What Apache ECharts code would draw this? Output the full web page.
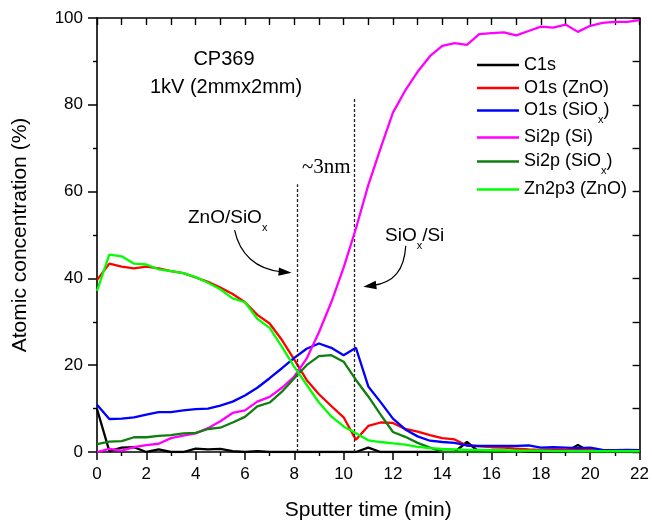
<!DOCTYPE html>
<html>
<head>
<meta charset="utf-8">
<script src="https://cdn.jsdelivr.net/npm/echarts@6/dist/echarts.min.js"></script>
<style>
html,body{margin:0;padding:0;background:#fff;}
#chart{width:652px;height:526px;}
</style>
</head>
<body>
<div id="chart"></div>
<script>
// Sputter time (min), one sample every 0.5 min
var times = [0,0.5,1,1.5,2,2.5,3,3.5,4,4.5,5,5.5,6,6.5,7,7.5,8,8.5,9,9.5,10,10.5,11,11.5,12,12.5,13,13.5,14,14.5,15,15.5,16,16.5,17,17.5,18,18.5,19,19.5,20,20.5,21,21.5,22];

var c1s = [9.9,0.2,1.0,1.1,0,0.6,0,0,0.8,0.6,0.7,0.2,0,0.2,0,0,0,0,0,0,0,0,1.0,0,0,0,0,0,0,0,2.3,0,0,0,0.4,0,0,0,0,1.6,0,0,0,0,0];
var o1sZnO = [39.6,43.4,42.7,42.3,42.7,42.3,41.7,41.2,40.2,39.2,37.9,36.4,34.5,31.6,29.6,25.8,21.3,16.6,13.3,10.6,8.0,2.8,6.0,6.8,6.7,5.3,4.7,3.9,3.2,2.9,1.5,1.3,1.1,1.0,0.8,0.6,0.5,0.5,0.5,0.5,0.4,0.3,0.3,0.3,0.3];
var o1sSiOx = [10.9,7.6,7.7,8.0,8.6,9.2,9.2,9.6,9.9,10.0,10.7,11.6,13.0,14.8,17.0,19.3,21.7,23.8,25.0,24.0,22.3,24.0,15.1,11.5,7.7,5.2,3.6,2.6,2.3,2.1,1.5,1.4,1.4,1.4,1.4,1.5,1.0,1.1,1.0,0.9,1.0,0.5,0.4,0.5,0.4];
var si2pSi = [0,0.7,0.3,1.1,1.6,1.9,3.2,3.8,4.3,5.5,7.1,9.0,9.6,11.6,12.7,14.8,17.4,21.5,27.6,34.5,42.5,51.5,61.5,70.0,78.2,83.3,87.6,91.2,93.6,94.2,93.8,96.3,96.5,96.7,96.0,97.0,98.0,97.8,98.5,96.8,98.2,98.9,99.1,99.1,99.5];
var si2pSiOx = [1.8,2.4,2.5,3.4,3.4,3.7,3.9,4.3,4.4,5.3,5.6,6.8,8.1,10.5,11.4,13.9,17.0,20.0,22.1,22.3,20.8,16.6,12.8,8.6,4.6,3.5,2.1,1.0,0.1,0,0,0,0.1,0.1,0.1,0.2,0.2,0.2,0.2,0.1,0.1,0.1,0.1,0.1,0.1];
var zn2p3 = [37.1,45.5,45.1,43.4,43.2,42.1,41.7,41.2,40.3,39.0,37.5,35.4,34.5,30.7,28.6,24.2,19.6,15.5,11.4,8.2,5.9,4.3,2.7,2.3,2.0,1.7,1.2,0.9,0.7,0.6,0.5,0.5,0.4,0.4,0.3,0.3,0.3,0.2,0.2,0.2,0.2,0.2,0.2,0.2,0.2];

var seriesNames = ['C1s','O1s (ZnO)','O1s (SiOx)','Si2p (Si)','Si2p (SiOx)','Zn2p3 (ZnO)'];
var seriesColors = ['#000000','#ff0000','#0000ff','#ff00ff','#0f7f0f','#00ff00'];
var seriesValues = [c1s,o1sZnO,o1sSiOx,si2pSi,si2pSiOx,zn2p3];

// interface markers (dashed lines): [time, top value]
var interfaces = [[8.14,61.7],[10.43,81.5]];

var xTicks = {min:0,max:22,interval:2};
var yTicks = {min:0,max:100,interval:20};

var SANS = 'Liberation Sans, Arial, sans-serif';
var SERIF = 'Liberation Serif, Times New Roman, serif';

function pairs(vals){ return times.map(function(t,i){ return [t, vals[i]]; }); }

function richName(name){
  if (name.indexOf('SiOx') >= 0) {
    var parts = name.split('SiOx');
    return '{a|' + parts[0] + 'SiO}{s|x}{a|' + parts[1] + '}';
  }
  return '{a|' + name + '}';
}

var legendRich = {
  a:{fontSize:18, lineHeight:18, fontFamily:SANS, color:'#000', verticalAlign:'top'},
  s:{fontSize:11, lineHeight:18, fontFamily:SANS, color:'#000', verticalAlign:'top', padding:[13,0,0,0]}
};

var legendRows = [65, 88, 110.5, 137.5, 161.5, 189.5];

var series = seriesNames.map(function(n,i){
  return {
    name:n, type:'line', data:pairs(seriesValues[i]), showSymbol:false, symbol:'none',
    xAxisIndex:0, yAxisIndex:0,
    lineStyle:{color:seriesColors[i], width:2.3}, itemStyle:{color:seriesColors[i]},
    emphasis:{disabled:true}, z: 2 + i
  };
});
series.push({
  type:'line', data:[], silent:true, xAxisIndex:0, yAxisIndex:0,
  markLine:{
    silent:true, symbol:['none','none'], label:{show:false},
    lineStyle:{color:'#222', type:[3,2], width:1.3},
    emphasis:{disabled:true},
    data: interfaces.map(function(p){ return [{coord:[p[0],0]},{coord:[p[0],p[1]]}]; })
  }
});

var legends = seriesNames.map(function(n,i){
  return {
    data:[n], orient:'vertical', left:477, top:legendRows[i]-9, padding:0,
    itemWidth:42, itemHeight:2.3, itemGap:0, icon:'rect', selectedMode:false,
    formatter: richName,
    textStyle:{rich:legendRich}
  };
});

var axisLineStyle = {color:'#000', width:1.6};

var option = {
  animation:false,
  backgroundColor:'#fff',
  grid:{left:97, right:11, top:18, bottom:70, containLabel:false},
  legend: legends,
  xAxis:[
    {type:'value', position:'bottom', min:xTicks.min, max:xTicks.max, interval:xTicks.interval,
     axisLine:{onZero:false, lineStyle:axisLineStyle},
     axisTick:{inside:false, length:8, lineStyle:{color:'#000', width:1.5}},
     minorTick:{show:true, splitNumber:2, length:4, lineStyle:{color:'#000', width:1.4}},
     axisLabel:{fontSize:17, color:'#000', margin:14, fontFamily:SANS},
     splitLine:{show:false}, minorSplitLine:{show:false},
     name:'Sputter time (min)', nameLocation:'middle', nameGap:48,
     nameTextStyle:{fontSize:21, color:'#000', fontFamily:SANS}},
    {type:'value', position:'top', min:xTicks.min, max:xTicks.max, interval:1,
     axisLine:{onZero:false, lineStyle:axisLineStyle},
     axisTick:{inside:true, length:7, lineStyle:{color:'#000', width:1.4}},
     axisLabel:{show:false}, splitLine:{show:false}}
  ],
  yAxis:[
    {type:'value', position:'left', min:yTicks.min, max:yTicks.max, interval:yTicks.interval,
     axisLine:{show:true, onZero:false, lineStyle:axisLineStyle},
     axisTick:{show:true, inside:false, length:9, lineStyle:{color:'#000', width:1.5}},
     minorTick:{show:true, splitNumber:2, length:4, lineStyle:{color:'#000', width:1.4}},
     axisLabel:{fontSize:17, color:'#000', margin:14, fontFamily:SANS},
     splitLine:{show:false}, minorSplitLine:{show:false},
     name:'Atomic concentration (%)', nameLocation:'middle', nameGap:66, nameRotate:90,
     nameTextStyle:{fontSize:21, color:'#000', fontFamily:SANS}},
    {type:'value', position:'right', min:yTicks.min, max:yTicks.max, interval:10,
     axisLine:{show:true, onZero:false, lineStyle:axisLineStyle},
     axisTick:{show:true, inside:true, length:7, lineStyle:{color:'#000', width:1.4}},
     axisLabel:{show:false}, splitLine:{show:false}}
  ],
  series: series
};

var chart = echarts.init(document.getElementById('chart'));
chart.setOption(option);

// annotations
var annRich = {
  a:{fontSize:19, lineHeight:19, fontFamily:SANS, color:'#000', verticalAlign:'top'},
  s:{fontSize:11, lineHeight:19, fontFamily:SANS, color:'#000', verticalAlign:'top', padding:[14,0,0,0]}
};

// arrows in data coordinates: start, control1, control2, tip
var arrowDefs = [
  [[5.58,51.1],[5.78,45.7],[6.43,42.0],[7.89,41.3]],
  [[12.52,47.5],[12.46,42.0],[12.05,39.0],[10.80,38.1]]
];

function px(p){ return chart.convertToPixel({xAxisIndex:0, yAxisIndex:0}, p); }

var graphics = [
  {type:'text', x:224, y:59, style:{text:'CP369', font:'20px '+SANS, fill:'#000', align:'center', verticalAlign:'middle'}},
  {type:'text', x:226, y:87, style:{text:'1kV (2mmx2mm)', font:'20px '+SANS, fill:'#000', align:'center', verticalAlign:'middle'}},
  {type:'text', x:302, y:167, style:{text:'~3nm', font:'21px '+SERIF, fill:'#000', align:'left', verticalAlign:'middle'}},
  {type:'text', x:188, y:208, style:{text:'{a|ZnO/SiO}{s|x}', rich:annRich, align:'left', verticalAlign:'top'}},
  {type:'text', x:385, y:226, style:{text:'{a|SiO}{s|x}{a|/Si}', rich:annRich, align:'left', verticalAlign:'top'}}
];

arrowDefs.forEach(function(a){
  var p = a.map(px);
  var tip = p[3], c2 = p[2];
  var dx = tip[0]-c2[0], dy = tip[1]-c2[1];
  var len = Math.sqrt(dx*dx+dy*dy); dx/=len; dy/=len;
  var L = 13, W = 4.2;
  var base = [tip[0]-L*dx, tip[1]-L*dy];
  var end = [tip[0]-L*0.7*dx, tip[1]-L*0.7*dy];
  graphics.push({type:'bezierCurve', shape:{x1:p[0][0], y1:p[0][1], cpx1:p[1][0], cpy1:p[1][1], cpx2:p[2][0], cpy2:p[2][1], x2:end[0], y2:end[1]},
    style:{stroke:'#000', lineWidth:1.2, fill:null}, silent:true});
  graphics.push({type:'polygon', shape:{points:[tip,[base[0]-W*dy, base[1]+W*dx],[base[0]+W*dy, base[1]-W*dx]]},
    style:{fill:'#000', stroke:null}, silent:true});
});

chart.setOption({graphic: graphics});
</script>
</body>
</html>
